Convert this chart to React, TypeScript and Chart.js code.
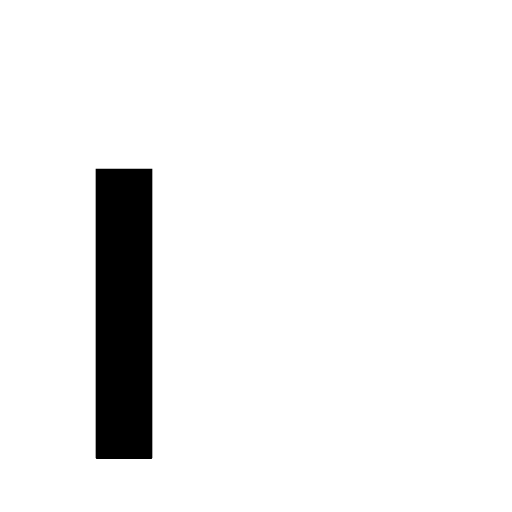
import { Chart, ChartConfiguration, registerables } from "chart.js";
import { useEffect, useRef } from "react";

Chart.register(...registerables);

const categories = [""];
const values = [3.5];
const yMin = 0;
const yMax = 5;

export default function App() {
  const chartRef = useRef<HTMLCanvasElement | null>(null);
  const chartInstance = useRef<Chart | null>(null);

  useEffect(() => {
    if (!chartRef.current) return;
    const ctx = chartRef.current.getContext("2d");
    if (!ctx) return;

    const config: ChartConfiguration<"bar", number[]> = {
      type: "bar",
      data: {
        labels: categories,
        datasets: [
          {
            data: values,
            backgroundColor: "#000000",
            borderColor: "#000000",
            borderWidth: 0,
            borderSkipped: false,
            borderRadius: { topLeft: 0, topRight: 0, bottomLeft: 2, bottomRight: 2 },
            barThickness: 56,
          },
        ],
      },
      options: {
        responsive: true,
        maintainAspectRatio: false,
        animation: false,
        layout: {
          padding: { left: 60, right: 324, top: 37, bottom: 45 },
        },
        scales: {
          x: { display: false },
          y: { display: false, min: yMin, max: yMax },
        },
        plugins: {
          legend: { display: false },
          tooltip: { enabled: false },
        },
      },
    };

    chartInstance.current = new Chart(ctx, config);

    return () => {
      chartInstance.current?.destroy();
    };
  }, []);

  return (
    <div style={{ width: 496, height: 496 }}>
      <canvas ref={chartRef} />
    </div>
  );
}
